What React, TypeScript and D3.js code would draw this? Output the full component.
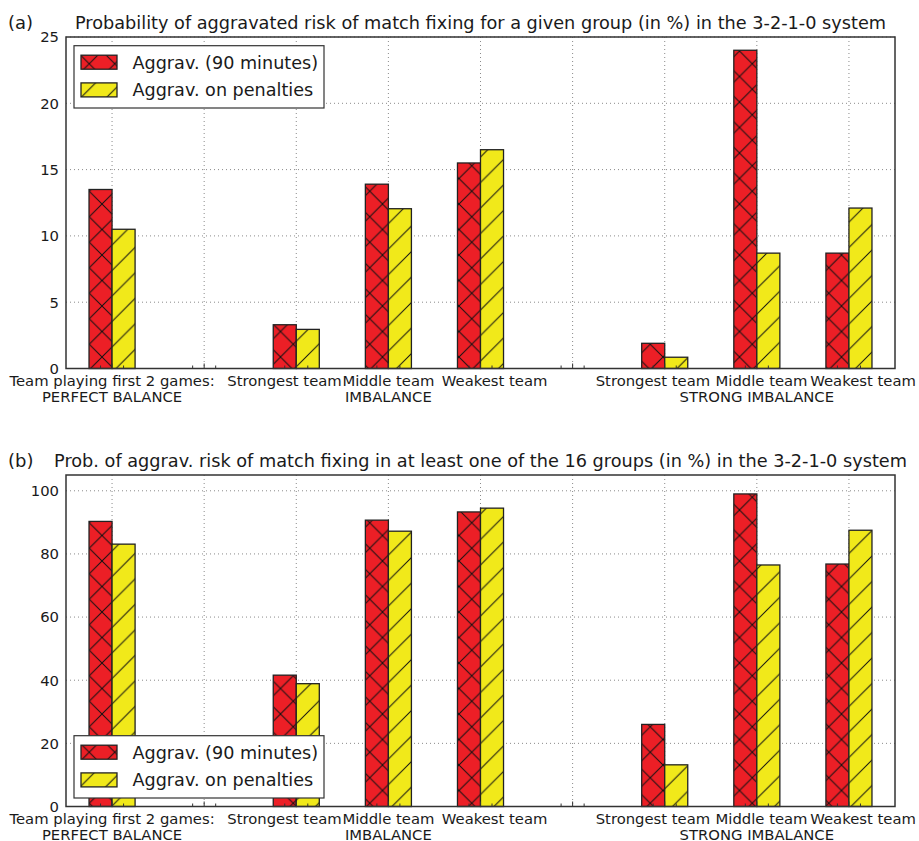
import React from "react";
import * as d3 from "d3";

const categories = ["Team playing first 2 games:", "", "Strongest team", "Middle team", "Weakest team", "", "Strongest team", "Middle team", "Weakest team"];
// label padding in space characters (negative = trailing spaces, positive = leading spaces), as in the original tick strings
const labelPads = [0, 0, -5, 0, 6, 0, -5, 2, 6];
const groupLabels = ["PERFECT BALANCE", "", "", "IMBALANCE", "", "", "", "STRONG IMBALANCE", ""];
const seriesNames = ["Aggrav. (90 minutes)", "Aggrav. on penalties"];

const aggrav90A = [13.5, 0, 3.3, 13.9, 15.5, 0, 1.9, 24.0, 8.7];
const penaltiesA = [10.5, 0, 2.95, 12.05, 16.5, 0, 0.85, 8.7, 12.1];
const aggrav90B = [90.3, 0, 41.6, 90.7, 93.3, 0, 26.0, 99.0, 76.8];
const penaltiesB = [83.1, 0, 38.9, 87.2, 94.5, 0, 13.2, 76.5, 87.5];

const yTicksA = [0, 5, 10, 15, 20, 25];
const yTicksB = [0, 20, 40, 60, 80, 100];

const titleA = "Probability of aggravated risk of match fixing for a given group (in %) in the 3-2-1-0 system";
const titleB = "Prob. of aggrav. risk of match fixing in at least one of the 16 groups (in %) in the 3-2-1-0 system";

const RED = "#ec1f26";
const YELLOW = "#f1e91a";
const FONT = "DejaVu Sans";
const TXT = "#1a1a1a";
const P = 25.5;
const SPACE_EM = 0.318;

type PanelProps = {
  top: number;
  label: string;
  title: string;
  red: number[];
  yellow: number[];
  yMax: number;
  yTicks: number[];
  legendTop: number;
};

function Panel({ top, label, title, red, yellow, yMax, yTicks, legendTop }: PanelProps) {
  const left = 66, right = 895, height = 331.5;
  const bottom = top + height;
  const x = d3.scaleLinear().domain([-0.5, 8.5]).range([left, right]);
  const y = d3.scaleLinear().domain([0, yMax]).range([bottom, top]);
  const bw = 0.25;
  const idx = d3.range(categories.length);
  return (
    <g>
      <text x={8} y={top - 8} fontFamily={FONT} fontSize={18} fill={TXT}>{label}</text>
      <text x={(left + right) / 2} y={top - 8} fontFamily={FONT} fontSize={17.7} fill={TXT} textAnchor="middle">{title}</text>
      {idx.map((i) => (
        <line key={"gx" + i} x1={x(i)} x2={x(i)} y1={top} y2={bottom} stroke="#8a8a8a" strokeWidth={1} strokeDasharray="1,3" />
      ))}
      {yTicks.map((t) => (
        <line key={"gy" + t} x1={left} x2={right} y1={y(t)} y2={y(t)} stroke="#8a8a8a" strokeWidth={1} strokeDasharray="1,3" />
      ))}
      {idx.map((i) => (
        <g key={"b" + i}>
          {red[i] > 0 && (
            <rect x={x(i - bw)} y={y(red[i])} width={x(i) - x(i - bw)} height={bottom - y(red[i])} fill="url(#hatchX)" stroke="#222" strokeWidth={1.3} />
          )}
          {yellow[i] > 0 && (
            <rect x={x(i)} y={y(yellow[i])} width={x(i + bw) - x(i)} height={bottom - y(yellow[i])} fill="url(#hatchS)" stroke="#222" strokeWidth={1.3} />
          )}
        </g>
      ))}
      {idx.map((i) => (
        <g key={"t" + i}>
          <line x1={x(i)} x2={x(i)} y1={bottom} y2={bottom - 5} stroke="#333" strokeWidth={1} />
          <line x1={x(i - bw / 2)} x2={x(i - bw / 2)} y1={bottom} y2={bottom - 3} stroke="#333" strokeWidth={1} />
          <line x1={x(i + bw / 2)} x2={x(i + bw / 2)} y1={bottom} y2={bottom - 3} stroke="#333" strokeWidth={1} />
        </g>
      ))}
      <rect x={left} y={top} width={right - left} height={height} fill="none" stroke="#333" strokeWidth={1.5} />
      {yTicks.map((t) => (
        <text key={"yl" + t} x={left - 7} y={y(t)} dy="0.36em" textAnchor="end" fontFamily={FONT} fontSize={14.8} fill={TXT}>{t}</text>
      ))}
      {idx.map((i) => (
        <g key={"xl" + i}>
          {categories[i] && (
            <text x={x(i)} y={bottom + 17.3} dx={`${(labelPads[i] * SPACE_EM) / 2}em`} textAnchor="middle" fontFamily={FONT} fontSize={14.8} fill={TXT}>{categories[i]}</text>
          )}
          {groupLabels[i] && (
            <text x={x(i)} y={bottom + 33} textAnchor="middle" fontFamily={FONT} fontSize={14.8} fill={TXT}>{groupLabels[i]}</text>
          )}
        </g>
      ))}
      <g>
        <rect x={74} y={legendTop} width={250} height={62.3} fill="#fff" stroke="#333" strokeWidth={1.2} />
        {seriesNames.map((s, k) => {
          const cy = legendTop + 16.5 + k * 27.7;
          return (
            <g key={"lg" + k}>
              <rect x={81} y={cy - 7} width={36} height={14} fill={k === 0 ? "url(#hatchX)" : "url(#hatchS)"} stroke="#222" strokeWidth={1.3} />
              <text x={132.5} y={cy} dy="0.36em" fontFamily={FONT} fontSize={17.6} fill={TXT}>{s}</text>
            </g>
          );
        })}
      </g>
    </g>
  );
}

export default function App() {
  return (
    <svg width={919} height={841} style={{ position: "absolute", left: 0, top: 0, background: "#fff" }}>
      <defs>
        <pattern id="hatchX" patternUnits="userSpaceOnUse" width={P} height={P}>
          <rect width={P} height={P} fill={RED} />
          <path d={`M0,0L${P},${P}M0,${P}L${P},0`} stroke="#111" strokeWidth={1} />
        </pattern>
        <pattern id="hatchS" patternUnits="userSpaceOnUse" width={P} height={P}>
          <rect width={P} height={P} fill={YELLOW} />
          <path d={`M0,${P}L${P},0M-2,2L2,-2M${P - 2},${P + 2}L${P + 2},${P - 2}`} stroke="#111" strokeWidth={1} />
        </pattern>
      </defs>
      <rect width={919} height={841} fill="#fff" />
      <Panel top={37} label="(a)" title={titleA} red={aggrav90A} yellow={penaltiesA} yMax={25} yTicks={yTicksA} legendTop={45.7} />
      <Panel top={475} label="(b)" title={titleB} red={aggrav90B} yellow={penaltiesB} yMax={105} yTicks={yTicksB} legendTop={735.7} />
    </svg>
  );
}
